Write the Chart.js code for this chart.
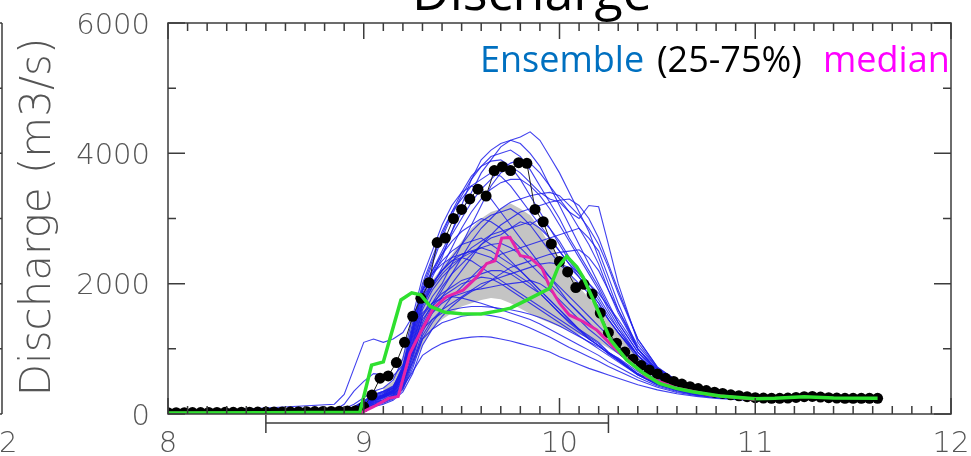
<!DOCTYPE html>
<html>
<head>
<meta charset="utf-8">
<script src="https://cdn.jsdelivr.net/npm/chart.js@4.4.1/dist/chart.umd.min.js"></script>
<style>
  html, body { margin: 0; padding: 0; background: #fff; }
  #wrap { width: 971px; height: 456px; }
</style>
</head>
<body>
<div id="wrap"><canvas id="chart" width="971" height="456"></canvas></div>
<script>
// axis ticks
const xTicks = [8, 9, 10, 11, 12];
const yTicks = [0, 2000, 4000, 6000];

// observed discharge, hourly from day 8.0
const obsStart = 8;
const obsStep = 1 / 24;
const observed = [
  20, 20, 20, 22, 22, 24, 24, 25, 26, 28, 28, 30, 30, 32, 32, 34, 35, 36, 38, 40, 40, 42, 45, 50,
  110, 290, 550, 585, 790, 1100, 1500, 1775, 2015, 2630, 2700, 3000, 3140, 3300, 3450, 3345,
  3735, 3795, 3735, 3857, 3847, 3140, 2950, 2610, 2340, 2180, 1940, 1990, 1840, 1550, 1250, 1085,
  950, 840, 745, 675, 614, 548, 500, 460, 420, 390, 360, 335, 315, 295, 280, 265,
  250, 245, 240, 240, 245, 255, 265, 270, 260, 250, 245, 240, 240, 240, 240, 240
];

// green simulation
const greenX = [8.0, 8.5, 8.98, 9.04, 9.1, 9.19, 9.245, 9.29, 9.34, 9.415, 9.5, 9.6, 9.7, 9.75, 9.85, 9.95,
  9.994, 10.037, 10.088, 10.12, 10.173, 10.26, 10.343, 10.43, 10.51, 10.6, 10.68, 10.82, 11.0, 11.1, 11.25, 11.4, 11.625];
const greenY = [15, 20, 25, 750, 800, 1750, 1860, 1830, 1650, 1560, 1540, 1535, 1590, 1625, 1775, 1930,
  2260, 2420, 2260, 2100, 1750, 1140, 830, 624, 471, 390, 342, 276, 235, 240, 265, 245, 240];

// ensemble median
const medianX = [8.0, 8.98, 9.05, 9.126, 9.176, 9.236, 9.296, 9.355, 9.423, 9.508, 9.577, 9.628, 9.67, 9.705,
  9.747, 9.8, 9.85, 9.91, 9.95, 10.0, 10.05, 10.12, 10.19, 10.275, 10.36, 10.445, 10.6, 10.77, 11.0];
const medianY = [10, 10, 112, 240, 270, 930, 1290, 1620, 1800, 1900, 2100, 2310, 2350, 2700,
  2710, 2430, 2400, 2240, 1950, 1700, 1520, 1420, 1290, 1030, 800, 572, 394, 292, 225];

// ensemble 25-75% band
const bandX = [9.1, 9.15, 9.2, 9.25, 9.3, 9.35, 9.4, 9.45, 9.5, 9.55, 9.6, 9.65, 9.7, 9.75, 9.8, 9.85, 9.9,
  9.95, 10.0, 10.05, 10.1, 10.15, 10.2, 10.3, 10.4, 10.5, 10.6, 10.8, 11.0];
const band75 = [400, 500, 900, 1500, 1850, 2050, 2250, 2450, 2650, 2850, 3000, 3100, 3150, 3230, 3150, 3050, 2850,
  2600, 2400, 2180, 1950, 1780, 1620, 1250, 900, 620, 450, 300, 230];
const band25 = [150, 250, 350, 750, 1050, 1300, 1450, 1550, 1650, 1700, 1750, 1780, 1760, 1700, 1620, 1540, 1460,
  1400, 1340, 1280, 1220, 1160, 1100, 920, 720, 530, 400, 270, 215];

// ensemble members
const ensX = [8.0, 8.85, 8.9, 8.95, 9.0, 9.05, 9.1, 9.15, 9.2, 9.25, 9.3, 9.35, 9.4, 9.45, 9.5, 9.55, 9.6, 9.65,
  9.7, 9.75, 9.8, 9.85, 9.9, 9.95, 10.0, 10.05, 10.1, 10.15, 10.2, 10.25, 10.3, 10.4, 10.5, 10.6, 10.7, 10.8, 11.0];
const members = [
  [10, 20, 40, 80, 150, 250, 300, 400, 700, 1300, 1900, 2200, 2500, 2800, 3100, 3400, 3700, 3900, 4100, 4200, 4250, 4330, 4200, 3950, 3700, 3400, 3100, 2800, 2400, 2000, 1600, 1050, 700, 500, 380, 310, 240],
  [10, 20, 30, 60, 120, 200, 260, 360, 600, 1200, 1800, 2100, 2400, 2800, 3200, 3600, 3900, 4050, 4150, 4200, 4150, 4000, 3800, 3500, 3200, 2900, 2600, 2300, 2000, 1700, 1400, 950, 650, 470, 360, 300, 235],
  [10, 30, 60, 100, 200, 300, 350, 400, 550, 950, 1500, 1800, 2000, 2300, 2600, 2900, 3200, 3500, 3700, 3800, 3700, 3550, 3400, 3300, 3250, 3100, 3000, 3200, 3180, 2600, 2000, 1100, 700, 500, 400, 340, 250],
  [10, 20, 40, 70, 130, 220, 280, 360, 650, 1250, 1850, 2150, 2450, 2750, 3000, 3250, 3450, 3600, 3750, 3850, 3900, 3850, 3700, 3500, 3300, 3100, 2850, 2600, 2300, 1900, 1550, 1000, 680, 490, 370, 310, 240],
  [10, 20, 40, 80, 150, 250, 300, 400, 750, 1400, 2000, 2400, 2800, 3100, 3300, 3500, 3600, 3700, 3650, 3500, 3300, 3100, 2900, 2700, 2500, 2300, 2100, 1900, 1700, 1450, 1250, 900, 620, 450, 350, 290, 230],
  [10, 40, 80, 150, 250, 350, 400, 520, 850, 1500, 2100, 2500, 2900, 3200, 3400, 3500, 3450, 3300, 3100, 2900, 2700, 2500, 2300, 2100, 1900, 1700, 1550, 1400, 1250, 1100, 950, 700, 520, 400, 320, 280, 225],
  [10, 20, 40, 70, 120, 200, 250, 330, 600, 1100, 1700, 2000, 2200, 2400, 2600, 2800, 2950, 3050, 3100, 3150, 3050, 2900, 2700, 2500, 2300, 2150, 2000, 1850, 1650, 1450, 1250, 900, 620, 450, 350, 290, 230],
  [10, 20, 30, 60, 100, 180, 220, 300, 520, 1000, 1600, 1900, 2100, 2250, 2400, 2550, 2650, 2750, 2800, 2850, 2900, 2950, 2850, 2700, 2500, 2300, 2150, 2000, 1850, 1650, 1450, 1000, 680, 480, 370, 300, 235],
  [10, 30, 60, 100, 180, 280, 330, 400, 700, 1300, 1900, 2150, 2350, 2500, 2600, 2650, 2700, 2600, 2500, 2350, 2200, 2050, 1900, 1750, 1600, 1450, 1300, 1200, 1100, 950, 850, 620, 470, 370, 300, 260, 215],
  [10, 150, 300, 700, 1100, 1150, 1100, 1150, 1250, 1500, 1800, 2000, 2200, 2350, 2450, 2500, 2550, 2500, 2400, 2300, 2200, 2050, 1900, 1750, 1600, 1450, 1300, 1150, 1050, 920, 820, 600, 450, 360, 300, 260, 215],
  [10, 60, 150, 350, 500, 620, 600, 580, 750, 1200, 1750, 2000, 2200, 2350, 2400, 2350, 2250, 2150, 2050, 1950, 1850, 1750, 1650, 1550, 1450, 1350, 1250, 1150, 1050, 930, 820, 600, 450, 360, 300, 260, 215],
  [10, 20, 40, 80, 150, 200, 260, 310, 420, 650, 900, 1000, 1080, 1130, 1160, 1180, 1190, 1180, 1150, 1120, 1080, 1040, 1000, 950, 880, 820, 760, 700, 650, 600, 550, 450, 370, 310, 270, 240, 205],
  [10, 20, 40, 80, 150, 230, 290, 340, 480, 800, 1150, 1300, 1400, 1450, 1500, 1520, 1530, 1510, 1480, 1430, 1380, 1320, 1250, 1180, 1100, 1020, 950, 880, 810, 730, 660, 520, 410, 330, 285, 250, 210],
  [10, 20, 30, 60, 110, 170, 220, 290, 480, 900, 1350, 1550, 1700, 1800, 1850, 1900, 1920, 1950, 1980, 2000, 2020, 2050, 2000, 1900, 1750, 1600, 1450, 1300, 1180, 1050, 930, 700, 520, 400, 320, 275, 220],
  [10, 20, 30, 50, 90, 140, 190, 250, 400, 750, 1200, 1450, 1600, 1700, 1800, 1900, 2000, 2050, 2100, 2150, 2200, 2250, 2300, 2320, 2300, 2250, 2100, 1900, 1700, 1450, 1250, 850, 600, 440, 350, 290, 230],
  [10, 20, 30, 50, 80, 120, 170, 230, 380, 700, 1150, 1400, 1600, 1800, 1950, 2100, 2250, 2350, 2450, 2500, 2550, 2600, 2650, 2700, 2750, 2800, 2850, 2700, 2500, 2100, 1700, 1000, 650, 470, 360, 300, 235],
  [10, 20, 30, 60, 100, 150, 200, 270, 450, 850, 1350, 1650, 1900, 2150, 2400, 2650, 2850, 3000, 3150, 3250, 3300, 3350, 3380, 3400, 3350, 3200, 3050, 2850, 2600, 2250, 1850, 1150, 720, 510, 390, 320, 245],
  [10, 20, 40, 80, 140, 220, 280, 360, 630, 1150, 1700, 1950, 2150, 2300, 2400, 2480, 2550, 2600, 2620, 2550, 2450, 2300, 2150, 2000, 1850, 1700, 1550, 1400, 1250, 1100, 950, 700, 510, 390, 315, 270, 220],
  [10, 20, 40, 70, 130, 200, 260, 330, 560, 1000, 1500, 1700, 1850, 1950, 2050, 2100, 2150, 2200, 2200, 2150, 2050, 1950, 1850, 1700, 1550, 1400, 1280, 1160, 1050, 930, 830, 620, 470, 370, 300, 260, 215],
  [10, 30, 50, 90, 170, 260, 320, 400, 680, 1300, 1900, 2200, 2450, 2650, 2800, 2900, 3000, 2950, 2850, 2700, 2550, 2400, 2250, 2100, 1950, 1800, 1650, 1500, 1350, 1200, 1050, 760, 550, 420, 335, 285, 225],
  [10, 30, 60, 110, 200, 290, 350, 430, 680, 1100, 1550, 1700, 1780, 1800, 1780, 1740, 1700, 1650, 1600, 1550, 1500, 1450, 1380, 1300, 1220, 1140, 1060, 980, 900, 800, 720, 560, 430, 345, 290, 255, 212],
  [10, 20, 30, 50, 80, 110, 150, 210, 340, 620, 1050, 1300, 1500, 1650, 1780, 1880, 1950, 2050, 2150, 2250, 2300, 2350, 2400, 2450, 2480, 2500, 2520, 2400, 2200, 1900, 1600, 1000, 660, 480, 370, 305, 238],
  [10, 20, 30, 60, 110, 180, 240, 320, 520, 1050, 1650, 1950, 2250, 2550, 2850, 3100, 3300, 3450, 3550, 3600, 3600, 3500, 3350, 3150, 2900, 2650, 2400, 2150, 1900, 1600, 1350, 900, 630, 460, 355, 295, 232],
  [10, 20, 40, 70, 130, 210, 280, 370, 640, 1250, 1900, 2300, 2700, 3050, 3350, 3600, 3800, 3950, 4000, 4050, 3950, 3750, 3500, 3250, 3000, 2700, 2450, 2200, 1950, 1650, 1400, 950, 650, 470, 360, 300, 235],
  [10, 20, 30, 60, 100, 160, 210, 280, 470, 900, 1400, 1700, 1950, 2150, 2300, 2450, 2600, 2700, 2750, 2850, 2950, 2900, 3000, 2850, 2650, 2400, 2200, 2000, 1800, 1550, 1300, 900, 620, 455, 350, 292, 230],
  [10, 30, 50, 100, 190, 280, 340, 420, 720, 1350, 1900, 2150, 2300, 2400, 2450, 2500, 2450, 2400, 2300, 2200, 2100, 2000, 1850, 1700, 1550, 1420, 1300, 1180, 1080, 950, 840, 610, 460, 365, 300, 258, 213],
  [10, 20, 30, 50, 90, 140, 190, 250, 420, 800, 1250, 1550, 1800, 2000, 2200, 2400, 2600, 2750, 2900, 3000, 3100, 3150, 3200, 3250, 3280, 3300, 3200, 3000, 2700, 2300, 1900, 1150, 720, 510, 390, 320, 245],
  [10, 20, 40, 80, 140, 210, 270, 340, 560, 1000, 1450, 1650, 1800, 1900, 2000, 2050, 2100, 2080, 2000, 1900, 1800, 1700, 1600, 1500, 1400, 1300, 1200, 1100, 1000, 900, 800, 600, 460, 365, 298, 258, 213],
  [10, 20, 40, 80, 140, 230, 290, 380, 680, 1300, 1950, 2350, 2750, 3100, 3400, 3650, 3800, 3880, 3900, 3800, 3600, 3350, 3100, 2850, 2600, 2350, 2150, 1950, 1750, 1500, 1300, 900, 630, 460, 355, 295, 232],
  [10, 20, 40, 80, 150, 220, 280, 350, 560, 950, 1300, 1450, 1550, 1600, 1630, 1650, 1650, 1640, 1620, 1600, 1570, 1530, 1480, 1420, 1350, 1270, 1190, 1110, 1030, 940, 860, 650, 490, 380, 305, 262, 214]
];

const pts = (xs, ys) => xs.map((v, i) => ({ x: v, y: ys[i] }));

const datasets = [];
datasets.push({ data: pts(bandX, band25), borderWidth: 0, borderColor: 'rgba(0,0,0,0)', pointRadius: 0, fill: false, order: 10 });
datasets.push({ data: pts(bandX, band75), borderWidth: 0, borderColor: 'rgba(0,0,0,0)', backgroundColor: '#c4c4c4', pointRadius: 0, fill: '-1', order: 10 });
members.forEach(m => {
  datasets.push({ data: pts(ensX, m), borderColor: 'rgba(30,30,235,0.85)', borderWidth: 1.1, pointRadius: 0, fill: false, order: 5 });
});
datasets.push({
  data: observed.map((v, k) => ({ x: obsStart + k * obsStep, y: v })),
  borderColor: '#222', borderWidth: 1, pointRadius: 5.5, pointBackgroundColor: '#000', pointBorderWidth: 0,
  fill: false, order: 3
});
datasets.push({ data: pts(medianX, medianY), borderColor: '#e524a8', borderWidth: 3, pointRadius: 0, fill: false, order: 2 });
datasets.push({ data: pts(greenX, greenY), borderColor: '#2fe02f', borderWidth: 3.5, pointRadius: 0, fill: false, order: 1 });

const labelFont = '200 29px "DejaVu Sans"';
const labelColor = '#555';

const decor = {
  id: 'decor',
  afterDatasetsDraw(chart) {
    const { ctx, chartArea: a, scales: { x, y } } = chart;
    ctx.save();
    ctx.strokeStyle = '#3c3c3c';
    ctx.lineWidth = 1.5;
    ctx.strokeRect(a.left, a.top, a.right - a.left, a.bottom - a.top);
    ctx.beginPath();
    for (let i = 0; i <= 40; i++) {
      const px = x.getPixelForValue(8 + i / 10);
      const len = i % 10 === 0 ? 16 : 8;
      ctx.moveTo(px, a.bottom); ctx.lineTo(px, a.bottom - len);
      ctx.moveTo(px, a.top); ctx.lineTo(px, a.top + len);
    }
    for (let v = 0; v <= 6000; v += 1000) {
      const py = y.getPixelForValue(v);
      const len = v % 2000 === 0 ? 17 : 8;
      ctx.moveTo(a.left, py); ctx.lineTo(a.left + len, py);
      ctx.moveTo(a.right, py); ctx.lineTo(a.right - len, py);
    }
    ctx.stroke();
    ctx.restore();
  },
  afterDraw(chart) {
    const { ctx, chartArea: a, scales: { x, y } } = chart;
    ctx.save();
    ctx.strokeStyle = '#3c3c3c';
    ctx.lineWidth = 1.5;
    // bracket under the axis
    const b0 = x.getPixelForValue(8.5), b1 = x.getPixelForValue(10.25);
    ctx.beginPath();
    ctx.moveTo(b0, 423); ctx.lineTo(b1, 423);
    ctx.moveTo(b0, a.bottom + 1); ctx.lineTo(b0, a.bottom + 19);
    ctx.moveTo(b1, a.bottom + 1); ctx.lineTo(b1, a.bottom + 19);
    // edge of the neighbouring panel
    ctx.moveTo(2, a.top); ctx.lineTo(2, a.bottom);
    for (let v = 0; v <= 6000; v += 1000) {
      const py = y.getPixelForValue(v);
      ctx.moveTo(0, py); ctx.lineTo(2, py);
    }
    ctx.stroke();

    // tick labels
    ctx.fillStyle = labelColor;
    ctx.font = labelFont;
    ctx.textBaseline = 'alphabetic';
    ctx.textAlign = 'right';
    yTicks.forEach(v => ctx.fillText(String(v), a.left - 18, y.getPixelForValue(v) + 10.5));
    ctx.textAlign = 'center';
    xTicks.forEach(v => ctx.fillText(String(v), x.getPixelForValue(v), a.bottom + 38));
    ctx.fillText('12', -1, a.bottom + 38);

    // y axis title
    ctx.save();
    ctx.translate(50, 217);
    ctx.rotate(-Math.PI / 2);
    ctx.font = '200 42px "DejaVu Sans"';
    ctx.fillText('Discharge (m3/s)', 0, 0);
    ctx.restore();

    // title, cut at the top
    ctx.fillStyle = '#000';
    ctx.font = '52px "Open Sans"';
    ctx.textAlign = 'center';
    ctx.fillText('Discharge', 532, 10);

    // legend text
    ctx.font = '36px "Open Sans"';
    ctx.textAlign = 'left';
    [['Ensemble', '#0070c0', 480], ['(25-75%)', '#000', 657], ['median', '#ff00ff', 823]].forEach(([t, c, tx]) => {
      ctx.fillStyle = c;
      ctx.fillText(t, tx, 72);
    });
    ctx.restore();
  }
};

new Chart(document.getElementById('chart'), {
  type: 'line',
  data: { datasets },
  options: {
    responsive: false,
    devicePixelRatio: 1,
    animation: false,
    events: [],
    layout: { padding: { top: 23, right: 20, left: 0, bottom: 0 } },
    plugins: { legend: { display: false }, tooltip: { enabled: false } },
    elements: { line: { tension: 0 } },
    scales: {
      x: {
        type: 'linear', min: 8, max: 12,
        grid: { display: false }, border: { display: false },
        ticks: { display: false },
        afterFit: s => { s.height = 42; }
      },
      y: {
        type: 'linear', min: 0, max: 6000,
        grid: { display: false }, border: { display: false },
        ticks: { display: false },
        afterFit: s => { s.width = 168; }
      }
    }
  },
  plugins: [decor]
});
</script>
</body>
</html>
